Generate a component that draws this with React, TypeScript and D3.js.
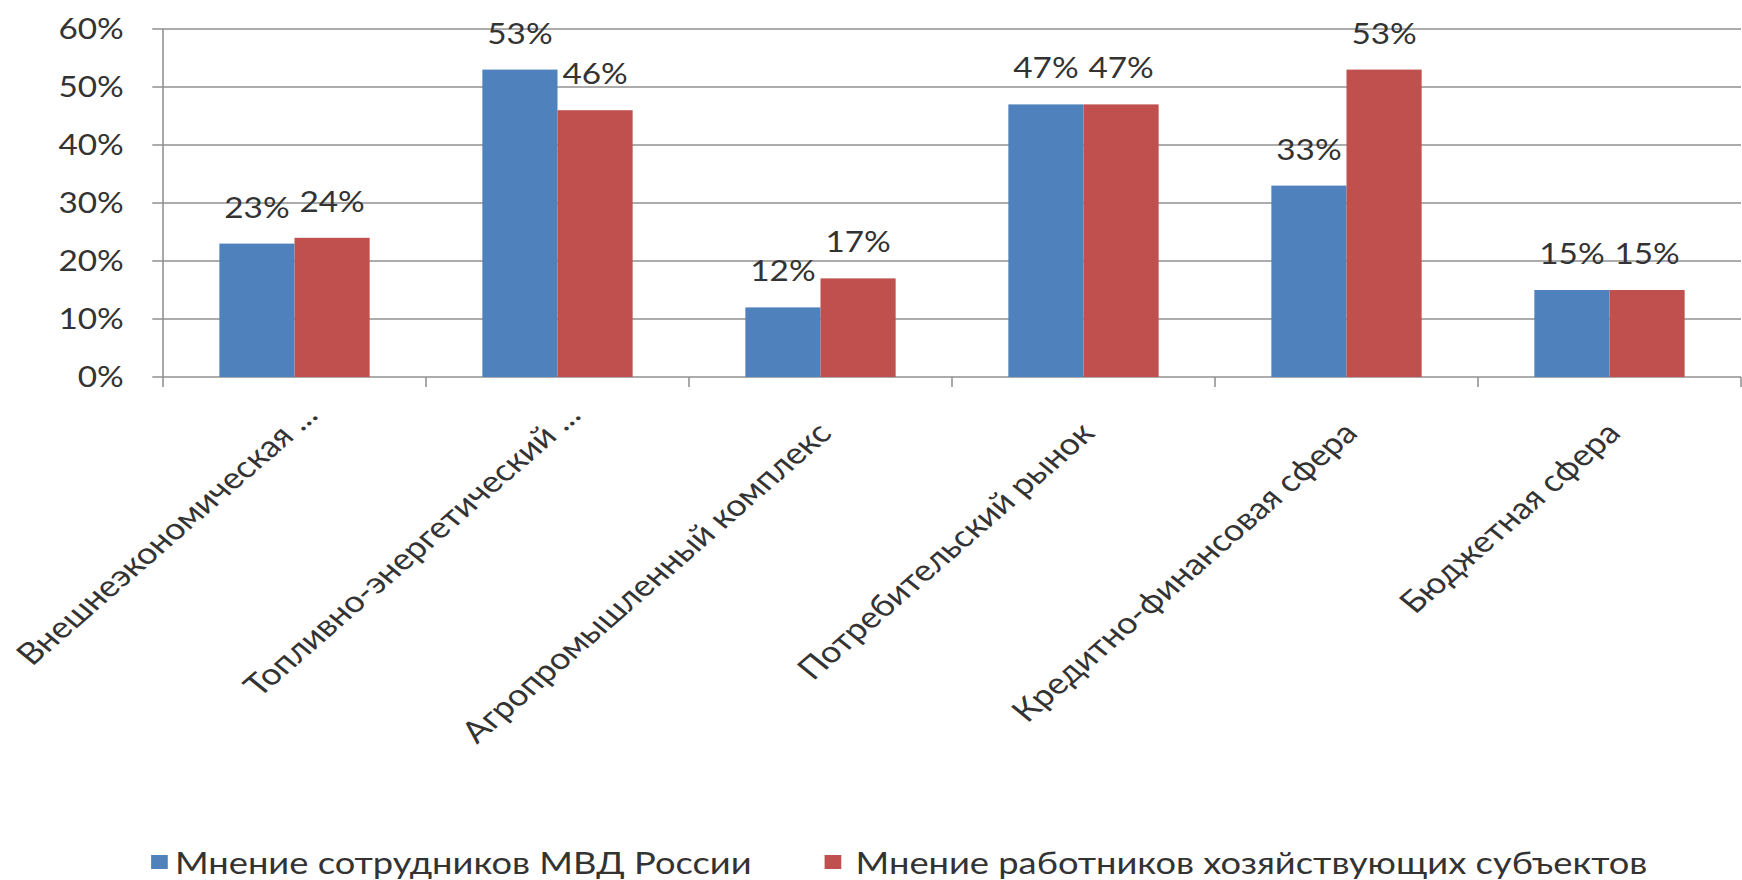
import React from "react";
import * as d3 from "d3";

const categories = [
  "Внешнеэкономическая ...",
  "Топливно-энергетический ...",
  "Агропромышленный комплекс",
  "Потребительский рынок",
  "Кредитно-финансовая сфера",
  "Бюджетная сфера",
];
const seriesNames = [
  "Мнение сотрудников МВД России",
  "Мнение работников хозяйствующих субъектов",
];
const mvdValues = [23, 53, 12, 47, 33, 15];
const businessValues = [24, 46, 17, 47, 53, 15];
const yTicks = [0, 10, 20, 30, 40, 50, 60];
const seriesColors = ["#4F81BD", "#C0504D"];

const W = 1464;
const H = 880;
const S = 1742 / W;
const FONT = "Lato, 'Open Sans', sans-serif";
const TEXT = "#333333";
const GRID = "#909090";

export default function App() {
  const x0 = d3.scaleBand<string>().domain(categories).range([163 / S, 1741 / S]).padding(0);
  const x1 = d3
    .scaleBand<string>()
    .domain(seriesNames)
    .range([0, x0.bandwidth()])
    .paddingInner(0)
    .paddingOuter(0.75);
  const y = d3.scaleLinear().domain([0, 60]).range([377, 29]);
  const series = [mvdValues, businessValues];
  const left = x0.range()[0];
  const right = x0.range()[1];

  return (
    <svg
      width={1742}
      height={880}
      viewBox={`0 0 ${W} ${H}`}
      preserveAspectRatio="none"
      style={{ position: "absolute", left: 0, top: 0, background: "#fff" }}
      fontFamily={FONT}
    >
      {/* gridlines + y ticks */}
      {yTicks.map((t) => (
        <g key={t}>
          <line x1={left - 9} x2={right} y1={y(t)} y2={y(t)} stroke={GRID} strokeWidth={1.5} />
          <text x={104} y={y(t)} textAnchor="end" dominantBaseline="central" fontSize={28} fill={TEXT}>
            {t}%
          </text>
        </g>
      ))}
      {/* y axis */}
      <line x1={left} x2={left} y1={y(60)} y2={y(0)} stroke={GRID} strokeWidth={1.3} />
      {/* x ticks */}
      {categories.map((c) => (
        <line key={c} x1={x0(c)!} x2={x0(c)!} y1={y(0)} y2={y(0) + 10} stroke={GRID} strokeWidth={1.3} />
      ))}
      <line x1={right} x2={right} y1={y(0)} y2={y(0) + 10} stroke={GRID} strokeWidth={1.3} />
      {/* bars */}
      {categories.map((c, i) => (
        <g key={c} transform={`translate(${x0(c)},0)`}>
          {seriesNames.map((s, j) => {
            const v = series[j][i];
            const bx = x1(s)!;
            return (
              <g key={s}>
                <rect x={bx} y={y(v)} width={x1.bandwidth()} height={y(0) - y(v)} fill={seriesColors[j]} />
                <text x={bx + x1.bandwidth() / 2} y={y(v) - 26} textAnchor="middle" fontSize={28} fill={TEXT}>
                  {v}%
                </text>
              </g>
            );
          })}
        </g>
      ))}
      {/* category labels */}
      {categories.map((c) => {
        const cx = x0(c)! + x0.bandwidth() / 2;
        const truncated = c.endsWith("...");
        return (
          <text
            key={c}
            transform={`translate(${cx + 21},417) rotate(-46)`}
            x={truncated ? 0 : -20}
            y={truncated ? 0 : 5}
            textAnchor="end"
            fontSize={30}
            fill={TEXT}
          >
            {c}
          </text>
        );
      })}
      {/* legend */}
      <rect x={127} y={855} width={14} height={14} fill={seriesColors[0]} />
      <text x={147} y={862} dominantBaseline="central" fontSize={30.5} fill={TEXT}>
        {seriesNames[0]}
      </text>
      <rect x={693} y={855} width={14} height={14} fill={seriesColors[1]} />
      <text x={719} y={862} dominantBaseline="central" fontSize={30.5} fill={TEXT}>
        {seriesNames[1]}
      </text>
    </svg>
  );
}
